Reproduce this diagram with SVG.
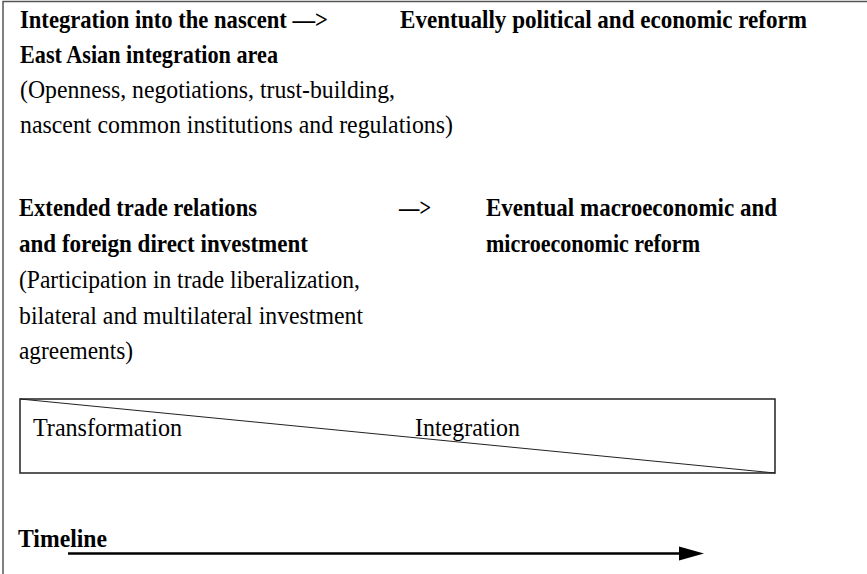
<svg xmlns="http://www.w3.org/2000/svg" width="867" height="574" viewBox="0 0 867 574">
  <style>
    text { font-family: 'Liberation Serif', 'Times New Roman', Times, serif; font-size: 25px; fill: #000; }
    .b { font-weight: bold; }
    .frame { stroke: #555; stroke-width: 1.5; fill: none; }
  </style>
  <rect width="867" height="574" fill="#fff"/>

  <!-- outer frame: top and left edges -->
  <path class="frame" d="M3,574 V1.5 H867"/>

  <!-- regional integration row -->
  <g id="integration-area">
    <text class="b" x="20" y="28" textLength="308" lengthAdjust="spacingAndGlyphs">Integration into the nascent —&gt;</text>
    <text class="b" x="20" y="63" textLength="258" lengthAdjust="spacingAndGlyphs">East Asian integration area</text>
    <text x="20" y="98" textLength="375" lengthAdjust="spacingAndGlyphs">(Openness, negotiations, trust-building,</text>
    <text x="20" y="133" textLength="433" lengthAdjust="spacingAndGlyphs">nascent common institutions and regulations)</text>
  </g>
  <g id="political-reform">
    <text class="b" x="400" y="28" textLength="407" lengthAdjust="spacingAndGlyphs">Eventually political and economic reform</text>
  </g>

  <!-- trade and investment row -->
  <g id="trade-relations">
    <text class="b" x="19" y="216" textLength="238" lengthAdjust="spacingAndGlyphs">Extended trade relations</text>
    <text class="b" x="19" y="252" textLength="289" lengthAdjust="spacingAndGlyphs">and foreign direct investment</text>
    <text x="19" y="288" textLength="341" lengthAdjust="spacingAndGlyphs">(Participation in trade liberalization,</text>
    <text x="19" y="324" textLength="344" lengthAdjust="spacingAndGlyphs">bilateral and multilateral investment</text>
    <text x="19" y="359" textLength="114" lengthAdjust="spacingAndGlyphs">agreements)</text>
  </g>
  <g id="trade-arrow">
    <text class="b" x="399" y="216" textLength="32" lengthAdjust="spacingAndGlyphs">—&gt;</text>
  </g>
  <g id="macro-reform">
    <text class="b" x="486" y="216" textLength="291" lengthAdjust="spacingAndGlyphs">Eventual macroeconomic and</text>
    <text class="b" x="486" y="252" textLength="214" lengthAdjust="spacingAndGlyphs">microeconomic reform</text>
  </g>

  <!-- transformation / integration balance box -->
  <g id="balance-box">
    <rect x="20" y="399" width="755" height="74" fill="none" stroke="#222" stroke-width="1.5"/>
    <line x1="20" y1="399" x2="775" y2="473" stroke="#222" stroke-width="1"/>
    <text x="33" y="436" textLength="149" lengthAdjust="spacingAndGlyphs">Transformation</text>
    <text x="415" y="436" textLength="105" lengthAdjust="spacingAndGlyphs">Integration</text>
  </g>

  <!-- timeline -->
  <g id="timeline">
    <text class="b" x="18" y="547" textLength="89" lengthAdjust="spacingAndGlyphs">Timeline</text>
  </g>
  <g id="connectors">
    <line x1="68" y1="553.5" x2="680" y2="553.5" stroke="#000" stroke-width="2.5"/>
    <path d="M679,546.5 L704,553.5 L679,560.5 Z" fill="#000"/>
  </g>
</svg>
